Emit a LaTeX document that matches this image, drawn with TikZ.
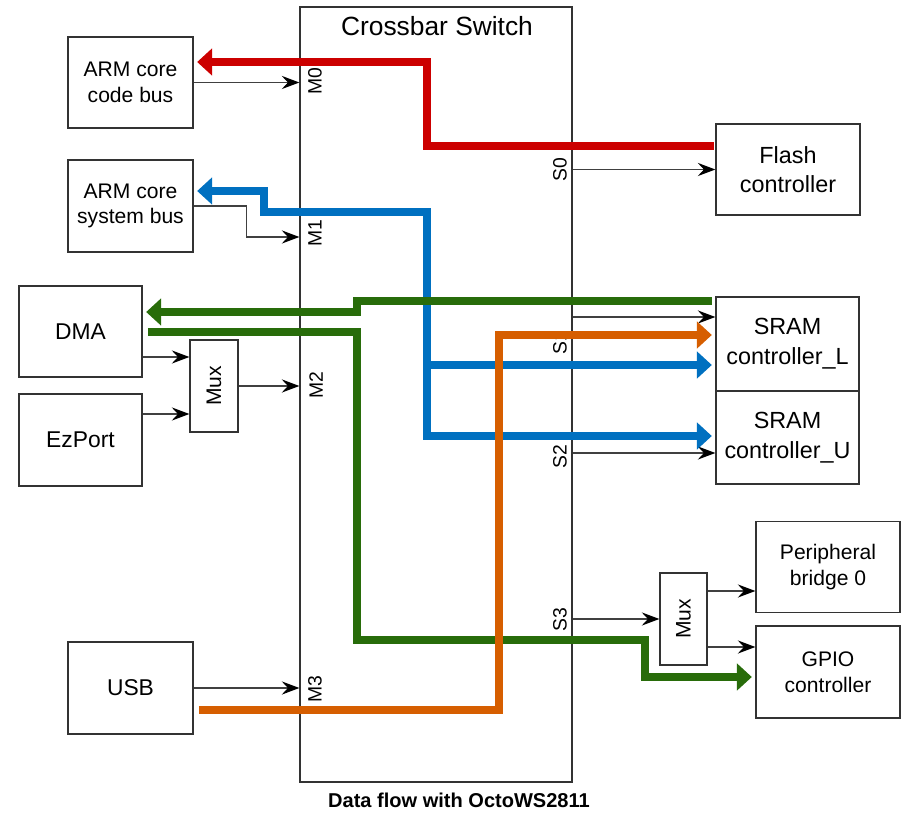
\documentclass[tikz,border=0pt]{standalone}
\usepackage{fontspec}
\setmainfont{Liberation Sans}
\usetikzlibrary{arrows.meta}

\definecolor{busred}{RGB}{204,0,0}
\definecolor{busblue}{RGB}{0,112,192}
\definecolor{busgreen}{RGB}{40,108,10}
\definecolor{busorange}{RGB}{214,94,0}

\tikzset{
  blk/.style={draw=black!80, line width=0.75pt, inner sep=0pt, align=center},
  port/.style={rotate=90, font=\fontsize{11}{13}\selectfont},
  wire/.style={draw=black!75, line width=0.7pt, -{Stealth[length=10pt,width=7.5pt,inset=3.5pt,black]}},
  bus/.style={draw=#1, line width=4pt, >={Triangle[length=8.5pt,width=15pt]}},
}

\begin{document}
\begin{tikzpicture}[x=0.02cm, y=-0.02cm]

            \useasboundingbox (0,0) rectangle (923,817);

            % crossbar
            \node[blk, minimum width=5.44cm, minimum height=15.5cm] (xbar) at (436,394.5) {};
            \node[font=\fontsize{15}{18}\selectfont] (xbartitle) at (437,26) {Crossbar Switch};

            % masters
            \node[blk, minimum width=2.5cm, minimum height=1.82cm, font=\fontsize{12}{14.7}\selectfont] (code) at (130.5,82.5) {ARM core\\code bus};
            \node[blk, minimum width=2.5cm, minimum height=1.84cm, font=\fontsize{12}{14.7}\selectfont] (sys) at (130.5,206) {ARM core\\system bus};
            \node[blk, minimum width=2.46cm, minimum height=1.82cm, font=\fontsize{13}{15}\selectfont] (dma) at (80.5,331.5) {DMA};
            \node[blk, minimum width=2.46cm, minimum height=1.84cm, font=\fontsize{13}{15}\selectfont] (ezport) at (80.5,440) {EzPort};
            \node[blk, minimum width=2.5cm, minimum height=1.84cm, font=\fontsize{13}{15}\selectfont] (usb) at (130.5,688) {USB};
            \node[blk, minimum width=0.96cm, minimum height=1.84cm, label={[rotate=90, font=\fontsize{12}{14}\selectfont]center:Mux}] (muxa) at (214,386) {};

            % slaves
            \node[blk, minimum width=2.88cm, minimum height=1.82cm, font=\fontsize{13.3}{16.6}\selectfont] (flash) at (788,169.5) {Flash\\controller};
            \node[blk, minimum width=2.86cm, minimum height=1.88cm, font=\fontsize{13.3}{17}\selectfont] (sraml) at (787.5,344) {SRAM\\controller\_L};
            \node[blk, minimum width=2.86cm, minimum height=1.86cm, font=\fontsize{13.3}{17}\selectfont] (sramu) at (787.5,437.5) {SRAM\\controller\_U};
            \node[blk, minimum width=2.88cm, minimum height=1.82cm, font=\fontsize{12}{15}\selectfont] (periph) at (828,567) {Peripheral\\bridge 0};
            \node[blk, minimum width=2.88cm, minimum height=1.84cm, font=\fontsize{12}{15}\selectfont] (gpio) at (828,672) {GPIO\\controller};
            \node[blk, minimum width=0.94cm, minimum height=1.84cm, label={[rotate=90, font=\fontsize{12}{14}\selectfont]center:Mux}] (muxb) at (683.5,619) {};

            % port labels
            \node[port] (m0) at (315,81) {M0};
            \node[port] (m1) at (315,233) {M1};
            \node[port] (m2) at (316,385) {M2};
            \node[port] (m3) at (315,689) {M3};
            \node[port] (s0) at (560,170) {S0};
            \node[port] (s1) at (560,343) {S1};
            \node[port] (s2) at (560,457) {S2};
            \node[port] (s3) at (560,620) {S3};

            % thin connections
            \draw[wire] (code.east) -- (code.east -| xbar.west);
            \draw[wire] (sys.east) -- ++(53,0) |- (xbar.west |- 0,237);
            \draw[wire] (dma.east |- 0,357) -- (muxa.west |- 0,357);
            \draw[wire] (ezport.east |- 0,414) -- (muxa.west |- 0,414);
            \draw[wire] (muxa.east) -- (muxa.east -| xbar.west);
            \draw[wire] (usb.east) -- (usb.east -| xbar.west);
            \draw[wire] (flash.west -| xbar.east) -- (flash.west);
            \draw[wire] (xbar.east |- 0,317) -- (sraml.west |- 0,317);
            \draw[wire] (xbar.east |- 0,453) -- (sramu.west |- 0,453);
            \draw[wire] (muxb.west -| xbar.east) -- (muxb.west);
            \draw[wire] (muxb.east |- 0,591) -- (periph.west |- 0,591);
            \draw[wire] (muxb.east |- 0,647) -- (gpio.west |- 0,647);

            % data flow
            \coordinate (bsplit) at (427,365);
            \draw[bus=busblue, <->, shorten <=2pt, shorten >=2pt] (sys.east |- 0,191) -| (264,212) -| (427,436) -- (sramu.west |- 0,436);
            \draw[bus=busblue, ->, shorten >=2pt] (bsplit) -- (sraml.west |- 0,365);

            \draw[bus=busgreen, ->, shorten <=2pt, shorten >=2pt] (sraml.west |- 0,301) -| (357,312) -- (dma.east |- 0,312);
            \draw[bus=busgreen, ->, shorten <=3pt, shorten >=2pt] (dma.east |- 0,332) -| (357,640) -| (645,677) -- (gpio.west |- 0,677);

            \draw[bus=busorange, ->, shorten <=3pt, shorten >=2pt] (usb.east |- 0,710) -| (499,335) -- (sraml.west |- 0,335);

            \draw[bus=busred, ->, shorten <=1pt, shorten >=2pt] (flash.west |- 0,146) -| (427,62) -- (code.east |- 0,62);

            \node[font=\bfseries\fontsize{11.4}{14}\selectfont] (caption) at (459,800) {Data flow with OctoWS2811};

        \end{tikzpicture}
\end{document}
